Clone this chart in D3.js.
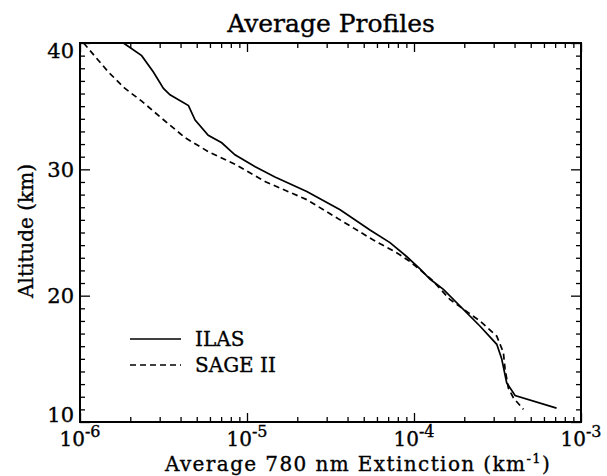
<!DOCTYPE html>
<html>
<head>
<meta charset="utf-8">
<script src="https://cdn.jsdelivr.net/npm/d3@7"></script>
<style>
  body { margin: 0; background: #fff; }
  text { font-family: "DejaVu Serif", "Liberation Serif", serif; fill: #000; stroke: #000; stroke-width: 0.35px; }
</style>
</head>
<body>
<div id="vis"></div>
<script>
// ILAS average profile (solid)
var ilasAlt = [40, 39.0, 37.7, 36.4, 35.9, 35.05, 33.9, 32.7, 32.1, 31.15, 30.2, 29.4, 28.25, 26.8, 25.2, 24.2, 23.1, 22.1, 21.3, 20.5, 17.6, 16.15, 15.0, 13.1, 12.1, 11.1];
var ilasExt = [1.82e-6, 2.34e-6, 2.75e-6, 3.16e-6, 3.46e-6, 4.46e-6, 4.89e-6, 5.86e-6, 7.06e-6, 8.47e-6, 1.12e-5, 1.47e-5, 2.28e-5, 3.61e-5, 5.45e-5, 7.18e-5, 9.03e-5, 1.09e-4, 1.25e-4, 1.50e-4, 2.48e-4, 3.13e-4, 3.35e-4, 3.59e-4, 4.03e-4, 7.14e-4];

// SAGE II average profile (dashed)
var sageAlt = [40, 37.7, 36.4, 35.4, 34.05, 32.5, 31.4, 30.4, 29.0, 27.6, 26.0, 24.4, 23.4, 22.7, 21.3, 19.7, 18.0, 16.8, 15.5, 14.2, 12.7, 11.9, 11.0];
var sageExt = [1.05e-6, 1.48e-6, 1.86e-6, 2.34e-6, 3.08e-6, 4.26e-6, 5.86e-6, 8.47e-6, 1.3e-5, 2.28e-5, 3.61e-5, 5.71e-5, 7.87e-5, 9.46e-5, 1.27e-4, 1.64e-4, 2.48e-4, 3.13e-4, 3.43e-4, 3.51e-4, 3.67e-4, 3.94e-4, 4.52e-4];

var xMajor = [1e-6, 1e-5, 1e-4, 1e-3];
var xExponents = ["-6", "-5", "-4", "-3"];
var yMajor = [10, 20, 30, 40];
var seriesNames = ["ILAS", "SAGE II"];

var W = 607, H = 476;
var box = { left: 80, right: 581, top: 43, bottom: 422 };

var x = d3.scaleLog()
    .domain([1e-6, 1e-3])
    .range([box.left, box.right]);

var y = d3.scaleLinear()
    .domain([10, 40])
    .range([box.bottom, box.top]);

// minor ticks: 2..9 in each decade, every km in altitude
var xMinor = [];
xMajor.slice(0, 3).forEach(function(d) {
    for (var k = 2; k <= 9; k++) xMinor.push(d * k);
});
var yMinor = d3.range(10, 41).filter(function(d) { return d % 10 != 0; });

var svg = d3.select('#vis').append('svg')
    .attr("width", W)
    .attr("height", H);

//*// AXES \\*\\
function tickAxis(axisFn, scale, values, size, tx, ty) {
    var g = svg.append("g")
        .attr("transform", "translate(" + tx + "," + ty + ")")
        .call(axisFn(scale).tickValues(values).tickSize(size).tickFormat(""));
    g.select(".domain").remove();
    g.selectAll(".tick line").attr("stroke", "#000").attr("stroke-width", 1.3);
    return g;
}

tickAxis(d3.axisBottom, x, xMajor, -9, 0, box.bottom);
tickAxis(d3.axisBottom, x, xMinor, -5, 0, box.bottom);
tickAxis(d3.axisTop, x, xMajor, -9, 0, box.top);
tickAxis(d3.axisTop, x, xMinor, -5, 0, box.top);
tickAxis(d3.axisLeft, y, yMajor, -10, box.left, 0);
tickAxis(d3.axisLeft, y, yMinor, -5, box.left, 0);
tickAxis(d3.axisRight, y, yMajor, -10, box.right, 0);
tickAxis(d3.axisRight, y, yMinor, -5, box.right, 0);

svg.append("rect")
    .attr("x", box.left)
    .attr("y", box.top)
    .attr("width", box.right - box.left)
    .attr("height", box.bottom - box.top)
    .attr("fill", "none")
    .attr("stroke", "#000")
    .attr("stroke-width", 2);

// x tick labels 10^n
xMajor.forEach(function(d, i) {
    var t = svg.append("text")
        .attr("x", x(d))
        .attr("y", 446)
        .attr("text-anchor", "middle")
        .style("font-size", "20px");
    t.append("tspan").text("10");
    t.append("tspan")
        .attr("dy", -9)
        .style("font-size", "16px")
        .text(xExponents[i]);
});

// y tick labels (end ones nudged inside like the original)
var yNudge = { 10: -8, 20: 0, 30: 0, 40: 7 };
yMajor.forEach(function(d) {
    svg.append("text")
        .attr("x", 74)
        .attr("y", y(d) + yNudge[d])
        .attr("dy", "0.36em")
        .attr("text-anchor", "end")
        .style("font-size", "21px")
        .text(d);
});

// titles
svg.append("text")
    .attr("x", 331)
    .attr("y", 32)
    .attr("text-anchor", "middle")
    .style("font-size", "25px")
    .text("Average Profiles");

var xl = svg.append("text")
    .attr("x", 358)
    .attr("y", 471)
    .attr("text-anchor", "middle")
    .style("font-size", "20px")
    .style("letter-spacing", "1.4px");
xl.append("tspan").text("Average 780 nm Extinction (km");
xl.append("tspan").attr("dy", -8).style("font-size", "13px").text("-1");
xl.append("tspan").attr("dy", 8).text(")");

svg.append("text")
    .attr("transform", "translate(33,231) rotate(-90)")
    .attr("text-anchor", "middle")
    .style("font-size", "20px")
    .text("Altitude (km)");

//*// PROFILES \\*\\
var line = d3.line()
    .x(function(d) { return x(d[0]); })
    .y(function(d) { return y(d[1]); });

svg.append("path")
    .datum(d3.zip(ilasExt, ilasAlt))
    .attr("d", line)
    .attr("fill", "none")
    .attr("stroke", "#000")
    .attr("stroke-width", 1.7);

svg.append("path")
    .datum(d3.zip(sageExt, sageAlt))
    .attr("d", line)
    .attr("fill", "none")
    .attr("stroke", "#000")
    .attr("stroke-width", 1.7)
    .attr("stroke-dasharray", "6,4");

// legend
var legend = svg.append("g");
seriesNames.forEach(function(name, i) {
    var ly = 339 + i * 26;
    legend.append("line")
        .attr("x1", 130).attr("x2", 181)
        .attr("y1", ly).attr("y2", ly)
        .attr("stroke", "#000")
        .attr("stroke-width", 1.7)
        .attr("stroke-dasharray", i == 0 ? null : "6,4");
    legend.append("text")
        .attr("x", 195)
        .attr("y", ly + 7)
        .style("font-size", "20px")
        .text(name);
});
</script>
</body>
</html>
